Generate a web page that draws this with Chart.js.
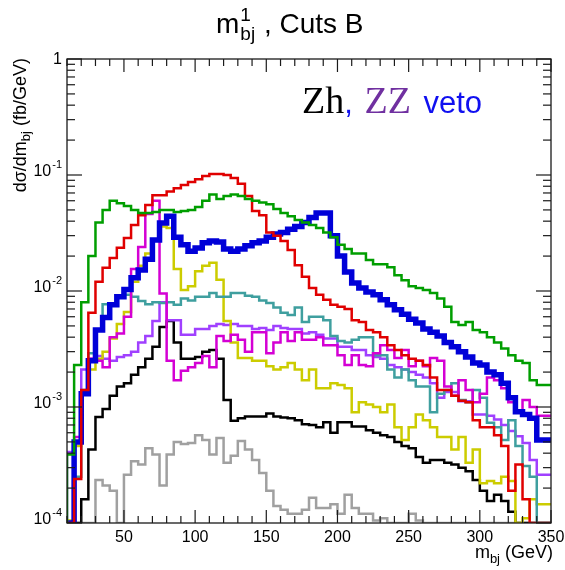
<!DOCTYPE html>
<html>
<head>
<meta charset="utf-8">
<script src="https://cdn.jsdelivr.net/npm/chart.js@4/dist/chart.umd.min.js"></script>
<style>
  html, body { margin: 0; padding: 0; background: #fff; }
  #wrap { width: 565px; height: 570px; position: relative; }
</style>
</head>
<body>
<div id="wrap"><canvas id="c"></canvas></div>
<script>
// Histogram binning: 5 GeV bins from 10 to 350 GeV
const binLow = 10;
const binWidth = 5;
const xMin = 10, xMax = 350;
const yMin = 1e-4, yMax = 1;
const xTickLabels = [50, 100, 150, 200, 250, 300, 350];
const yTickValues = [1, 0.1, 0.01, 0.001, 0.0001];
const yTickExponents = ['', '-1', '-2', '-3', '-4'];

// dσ/dm_bj per bin (fb/GeV), one array per curve
const green = [
  0, 3.9e-4, 2.3e-3, 8.0e-3, 0.020, 0.039, 0.050, 0.060, 0.057, 0.054,
  0.050, 0.047, 0.047, 0.048, 0.050, 0.050, 0.048, 0.049, 0.050, 0.053,
  0.060, 0.068, 0.062, 0.066, 0.068, 0.066, 0.062, 0.060, 0.058, 0.056,
  0.051, 0.047, 0.044, 0.041, 0.039, 0.037, 0.035, 0.032, 0.029, 0.025,
  0.023, 0.021, 0.021, 0.0185, 0.017, 0.017, 0.016, 0.0137, 0.0124, 0.011,
  0.0106, 0.0102, 0.0096, 0.0086, 0.0073, 0.0054, 0.0051, 0.0054, 0.0046, 0.0044,
  0.0040, 0.0036, 0.0032, 0.0028, 0.0025, 0.0024, 0.0017, 0.00155
];
const red = [
  0, 0, 2.4e-4, 1.4e-3, 6.5e-3, 0.012, 0.0159, 0.0193, 0.0236, 0.0287,
  0.037, 0.045, 0.055, 0.067, 0.067, 0.072, 0.077, 0.082, 0.087, 0.092,
  0.098, 0.102, 0.102, 0.100, 0.094, 0.084, 0.066, 0.049, 0.045, 0.032,
  0.030, 0.027, 0.0226, 0.0167, 0.0133, 0.0106, 0.0093, 0.0084, 0.0076, 0.0073,
  0.0070, 0.0056, 0.0054, 0.0046, 0.0044, 0.0040, 0.0034, 0.0031, 0.0028, 0.0026,
  0.0025, 0.0023, 0.0018, 0.0014, 0.0014, 0.00125, 0.00113, 0.0011, 7.7e-4, 6.7e-4,
  6.7e-4, 5.7e-4, 4.6e-4, 1.9e-4, 3.2e-4, 1.6e-4, 0, 0
];
const blue = [
  0, 0, 5e-4, 1.3e-3, 2.5e-3, 4.6e-3, 5.9e-3, 7.6e-3, 8.9e-3, 0.0103,
  0.013, 0.0152, 0.0188, 0.0275, 0.0385, 0.044, 0.029, 0.025, 0.022, 0.0235,
  0.026, 0.027, 0.0265, 0.023, 0.022, 0.023, 0.0245, 0.026, 0.027, 0.029,
  0.031, 0.032, 0.034, 0.036, 0.039, 0.043, 0.047, 0.047, 0.030, 0.020,
  0.0146, 0.0117, 0.0106, 0.0098, 0.0093, 0.0084, 0.0076, 0.0069, 0.0063, 0.0057,
  0.0053, 0.0047, 0.0044, 0.0041, 0.0036, 0.0033, 0.0030, 0.0027, 0.0024, 0.0023,
  0.0020, 0.0019, 0.0016, 0.0012, 9.1e-4, 8.6e-4, 8.0e-4, 5.2e-4
];
const magenta = [
  0, 0, 5.5e-4, 1.3e-3, 2.6e-3, 2.5e-3, 2.2e-3, 4.0e-3, 4.3e-3, 6.0e-3,
  0.0155, 0.024, 0.046, 0.060, 0.0095, 2.5e-3, 1.7e-3, 2.05e-3, 2.2e-3, 2.4e-3,
  2.75e-3, 2.2e-3, 4.1e-3, 3.7e-3, 4.2e-3, 3.8e-3, 3.0e-3, 4.4e-3, 4.4e-3, 2.9e-3,
  3.6e-3, 4.4e-3, 3.7e-3, 4.4e-3, 3.8e-3, 3.8e-3, 4.0e-3, 3.4e-3, 3.4e-3, 2.8e-3,
  2.3e-3, 2.8e-3, 2.3e-3, 2.25e-3, 2.9e-3, 3.4e-3, 3.1e-3, 2.65e-3, 3.1e-3, 2.25e-3,
  2.5e-3, 2.25e-3, 2.65e-3, 2.5e-3, 1.5e-3, 1.25e-3, 1.7e-3, 1.4e-3, 1.1e-3, 1.3e-3,
  1.8e-3, 1.7e-3, 1.45e-3, 1.1e-3, 9.0e-4, 1.15e-3, 1.0e-3, 8.4e-4
];
const yellow = [
  1.0e-4, 1.05e-4, 4.6e-4, 1.3e-3, 2.1e-3, 2.6e-3, 3.0e-3, 3.9e-3, 5.2e-3, 6.6e-3,
  0.012, 0.0165, 0.021, 0.028, 0.036, 0.035, 0.0155, 0.0102, 0.011, 0.0148,
  0.0165, 0.0175, 0.0125, 5.5e-3, 3.6e-3, 2.65e-3, 2.65e-3, 2.5e-3, 2.5e-3, 2.25e-3,
  2.1e-3, 2.2e-3, 2.4e-3, 2.1e-3, 1.7e-3, 2.1e-3, 1.45e-3, 1.45e-3, 1.6e-3, 1.55e-3,
  1.45e-3, 9.0e-4, 1.1e-3, 1.05e-3, 1.0e-3, 9.0e-4, 1.05e-3, 6.7e-4, 5.2e-4, 6.7e-4,
  8.6e-4, 7.7e-4, 6.7e-4, 5.5e-4, 5.5e-4, 4.3e-4, 5.5e-4, 3.3e-4, 4.3e-4, 2.2e-4,
  2.3e-4, 2.2e-4, 2.5e-4, 2.3e-4, 0, 1.1e-4, 1.6e-4, 1.45e-4
];
const teal = [
  0, 0, 2.5e-4, 1.4e-3, 2.9e-3, 4.6e-3, 7.7e-3, 7.7e-3, 9.1e-3, 9.3e-3,
  8.9e-3, 8.2e-3, 7.7e-3, 8.0e-3, 7.9e-3, 8.0e-3, 7.6e-3, 8.6e-3, 8.3e-3, 8.9e-3,
  8.9e-3, 9.6e-3, 8.9e-3, 8.9e-3, 9.6e-3, 9.6e-3, 9.1e-3, 8.9e-3, 8.3e-3, 7.9e-3,
  7.2e-3, 6.5e-3, 6.2e-3, 7.2e-3, 5.4e-3, 6.0e-3, 6.0e-3, 5.6e-3, 4.1e-3, 3.7e-3,
  3.6e-3, 3.8e-3, 4.0e-3, 4.0e-3, 2.8e-3, 2.8e-3, 2.1e-3, 1.8e-3, 2.1e-3, 1.7e-3,
  1.5e-3, 1.5e-3, 9.0e-4, 1.3e-3, 1.4e-3, 1.6e-3, 1.15e-3, 1.1e-3, 1.4e-3, 1.2e-3,
  7.3e-4, 6.7e-4, 5.2e-4, 7.7e-4, 4.6e-4, 3.1e-4, 2.5e-4, 0
];
const purple = [
  0, 4.1e-4, 4.9e-4, 2.1e-3, 2.6e-3, 2.75e-3, 2.6e-3, 2.5e-3, 2.7e-3, 2.8e-3,
  3.0e-3, 3.6e-3, 4.1e-3, 5.5e-3, 8.0e-3, 5.6e-3, 5.6e-3, 4.2e-3, 4.2e-3, 4.7e-3,
  4.7e-3, 5.0e-3, 5.2e-3, 5.1e-3, 5.2e-3, 5.0e-3, 5.0e-3, 4.7e-3, 4.8e-3, 4.6e-3,
  5.0e-3, 4.8e-3, 4.7e-3, 4.7e-3, 4.3e-3, 4.4e-3, 4.2e-3, 3.9e-3, 3.9e-3, 3.3e-3,
  3.3e-3, 3.1e-3, 3.1e-3, 2.8e-3, 2.7e-3, 2.6e-3, 2.3e-3, 2.2e-3, 2.1e-3, 2.0e-3,
  1.9e-3, 1.8e-3, 1.6e-3, 1.2e-3, 1.35e-3, 1.35e-3, 1.12e-3, 1.12e-3, 8.6e-4, 8.6e-4,
  8.4e-4, 7.8e-4, 7.0e-4, 6.2e-4, 5.6e-4, 4.9e-4, 3.5e-4, 2.6e-4
];
const black = [
  0, 0, 0, 1.6e-4, 4.3e-4, 8.2e-4, 9.6e-4, 1.25e-3, 1.5e-3, 1.6e-3,
  1.9e-3, 2.2e-3, 2.6e-3, 3.3e-3, 4.9e-3, 5.5e-3, 3.6e-3, 2.6e-3, 2.6e-3, 2.7e-3,
  3.0e-3, 3.1e-3, 2.6e-3, 1.15e-3, 7.6e-4, 8.0e-4, 8.3e-4, 8.3e-4, 8.3e-4, 8.8e-4,
  8.3e-4, 8.1e-4, 8.0e-4, 7.7e-4, 7.1e-4, 7.0e-4, 6.7e-4, 7.4e-4, 6.0e-4, 7.4e-4,
  7.4e-4, 6.8e-4, 6.8e-4, 6.3e-4, 6.0e-4, 5.7e-4, 5.5e-4, 5.0e-4, 4.6e-4, 4.4e-4,
  3.7e-4, 3.3e-4, 3.5e-4, 3.5e-4, 3.3e-4, 3.2e-4, 3.0e-4, 2.8e-4, 2.35e-4, 1.9e-4,
  1.55e-4, 1.75e-4, 1.55e-4, 1.25e-4, 0, 0, 0, 0
];
const gray = [
  0, 0, 0, 0, 0, 2.35e-4, 2.1e-4, 1.9e-4, 0, 2.6e-4,
  3.4e-4, 3.2e-4, 4.4e-4, 3.9e-4, 2.1e-4, 3.9e-4, 5.0e-4, 4.8e-4, 4.9e-4, 5.7e-4,
  5.2e-4, 3.9e-4, 5.4e-4, 3.3e-4, 3.8e-4, 5.1e-4, 4.3e-4, 3.5e-4, 2.7e-4, 1.9e-4,
  1.4e-4, 1.3e-4, 1.2e-4, 1.2e-4, 1.3e-4, 1.65e-4, 1.35e-4, 1.35e-4, 1.45e-4, 1.2e-4,
  1.75e-4, 1.35e-4, 1.2e-4, 1.2e-4, 1.05e-4, 1.1e-4, 0, 0, 0, 1.2e-4,
  1.05e-4, 0, 0, 0, 0, 0, 0, 0, 0, 0,
  0, 0, 0, 0, 0, 0, 0, 0
];

// Step outline: one point per low bin edge, plus the closing high edge.
// Empty bins sit on the bottom of the log axis.
function histPoints(vals) {
  const pts = vals.map((v, i) => ({ x: binLow + binWidth * i, y: v > 0 ? v : yMin }));
  pts.push({ x: binLow + binWidth * vals.length, y: pts[pts.length - 1].y });
  return pts;
}

// first entry is painted last (on top)
const curves = [
  { data: green,   color: '#009e00', width: 2.5 },
  { data: red,     color: '#e00000', width: 2.5 },
  { data: blue,    color: '#0000d8', width: 5.5 },
  { data: magenta, color: '#d400d4', width: 2.5 },
  { data: teal,    color: '#3f9f9f', width: 2.5 },
  { data: yellow,  color: '#cccc00', width: 2.5 },
  { data: purple,  color: '#a040ff', width: 2.5 },
  { data: black,   color: '#000000', width: 2.5 },
  { data: gray,    color: '#a0a0a0', width: 2.5 }
];

const SANS = '"Liberation Sans", Arial, Helvetica, sans-serif';
const SERIF = '"Liberation Serif", "Times New Roman", serif';

function seg(ctx, x1, y1, x2, y2) {
  ctx.beginPath(); ctx.moveTo(x1, y1); ctx.lineTo(x2, y2); ctx.stroke();
}

const frameAndText = {
  id: 'frameAndText',
  afterDraw(chart) {
    const { ctx, chartArea: a, scales: { x, y } } = chart;
    ctx.save();
    ctx.strokeStyle = '#1a1a1a';
    ctx.lineWidth = 1.3;
    ctx.strokeRect(a.left, a.top, a.right - a.left, a.bottom - a.top);

    // x ticks: minor every 10 GeV, major every 50 GeV, on bottom and top
    ctx.lineWidth = 1.2;
    for (let v = xMin; v <= xMax; v += 10) {
      const px = x.getPixelForValue(v);
      const len = v % 50 === 0 ? 13 : 7;
      seg(ctx, px, a.bottom, px, a.bottom - len);
      seg(ctx, px, a.top, px, a.top + len);
    }
    // y ticks: decades major, 2..9 minor, on left and right
    for (let e = -4; e <= 0; e++) {
      for (let m = 1; m <= 9; m++) {
        const v = m * Math.pow(10, e);
        if (v > yMax * 1.0001) break;
        const py = y.getPixelForValue(v);
        const len = m === 1 ? 15 : 8;
        seg(ctx, a.left, py, a.left + len, py);
        seg(ctx, a.right, py, a.right - len, py);
      }
    }

    ctx.fillStyle = '#000';
    // x tick labels
    ctx.font = '16px ' + SANS;
    ctx.textAlign = 'center';
    ctx.textBaseline = 'alphabetic';
    xTickLabels.forEach(v => {
      ctx.fillText(String(v), x.getPixelForValue(v), 542);
    });

    // y tick labels (10 with raised exponent)
    ctx.textAlign = 'left';
    yTickValues.forEach((v, i) => {
      const py = y.getPixelForValue(v);
      const exp = yTickExponents[i];
      const right = a.left - 5;
      if (!exp) {
        ctx.font = '16px ' + SANS;
        const w = ctx.measureText('1').width;
        ctx.fillText('1', right - w, py + 5);
      } else {
        ctx.font = '11px ' + SANS;
        const ew = ctx.measureText(exp).width;
        ctx.font = '16px ' + SANS;
        const bw = ctx.measureText('10').width;
        ctx.fillText('10', right - ew - bw - 1, py + 1);
        ctx.font = '11px ' + SANS;
        ctx.fillText(exp, right - ew, py - 7);
      }
    });

    // title: m^1_bj , Cuts B
    {
      let cx = 216;
      const base = 33;
      ctx.font = '28px ' + SANS;
      ctx.fillText('m', cx, base);
      cx += ctx.measureText('m').width + 1;
      ctx.font = '19px ' + SANS;
      ctx.fillText('1', cx, base - 12);
      ctx.fillText('bj', cx, base + 7);
      cx += ctx.measureText('bj').width + 1;
      ctx.font = '28px ' + SANS;
      ctx.fillText(' , Cuts B', cx, base);
    }

    // x axis title, right aligned to the frame
    {
      const base = 558;
      ctx.font = '18px ' + SANS;
      const w1 = ctx.measureText('m').width;
      const w3 = ctx.measureText(' (GeV)').width;
      ctx.font = '13px ' + SANS;
      const w2 = ctx.measureText('bj').width;
      let cx = a.right + 2 - (w1 + w2 + w3);
      ctx.font = '18px ' + SANS;
      ctx.fillText('m', cx, base); cx += w1;
      ctx.font = '13px ' + SANS;
      ctx.fillText('bj', cx, base + 5); cx += w2;
      ctx.font = '18px ' + SANS;
      ctx.fillText(' (GeV)', cx, base);
    }

    // y axis title, rotated, flush with the top of the frame
    {
      ctx.save();
      ctx.translate(26, a.top - 1);
      ctx.rotate(-Math.PI / 2);
      ctx.font = '18px ' + SANS;
      const w1 = ctx.measureText('dσ/dm').width;
      const w3 = ctx.measureText(' (fb/GeV)').width;
      ctx.font = '13px ' + SANS;
      const w2 = ctx.measureText('bj').width;
      let cx = -(w1 + w2 + w3);
      ctx.font = '18px ' + SANS;
      ctx.fillText('dσ/dm', cx, 0); cx += w1;
      ctx.font = '13px ' + SANS;
      ctx.fillText('bj', cx, 4); cx += w2;
      ctx.font = '18px ' + SANS;
      ctx.fillText(' (fb/GeV)', cx, 0);
      ctx.restore();
    }

    // process label
    {
      const base = 113;
      let cx = 302;
      ctx.font = '38px ' + SERIF;
      ctx.fillStyle = '#000';
      ctx.fillText('Zh', cx, base);
      cx += ctx.measureText('Zh').width;
      ctx.font = '31px ' + SANS;
      ctx.fillStyle = '#1010f0';
      ctx.fillText(',', cx, base);
      cx += ctx.measureText(', ').width + 3;
      ctx.font = '38px ' + SERIF;
      ctx.fillStyle = '#7030a0';
      ctx.fillText('ZZ', cx, base);
      cx += ctx.measureText('ZZ').width + 4;
      ctx.font = '31px ' + SANS;
      ctx.fillStyle = '#1010f0';
      ctx.fillText(' veto', cx, base);
    }
    ctx.restore();
  }
};

new Chart(document.getElementById('c'), {
  type: 'line',
  data: {
    datasets: curves.map(c => ({
      data: histPoints(c.data),
      borderColor: c.color,
      borderWidth: c.width,
      stepped: 'after',
      pointRadius: 0,
      fill: false,
      tension: 0,
      borderJoinStyle: 'miter',
      borderCapStyle: 'butt'
    }))
  },
  options: {
    responsive: true,
    maintainAspectRatio: false,
    devicePixelRatio: 1,
    animation: false,
    layout: { padding: { left: 67, right: 14, top: 59, bottom: 47 } },
    scales: {
      x: { type: 'linear', min: xMin, max: xMax, display: false },
      y: { type: 'logarithmic', min: yMin, max: yMax, display: false }
    },
    plugins: { legend: { display: false }, tooltip: { enabled: false }, title: { display: false } }
  },
  plugins: [frameAndText]
});
</script>
</body>
</html>
